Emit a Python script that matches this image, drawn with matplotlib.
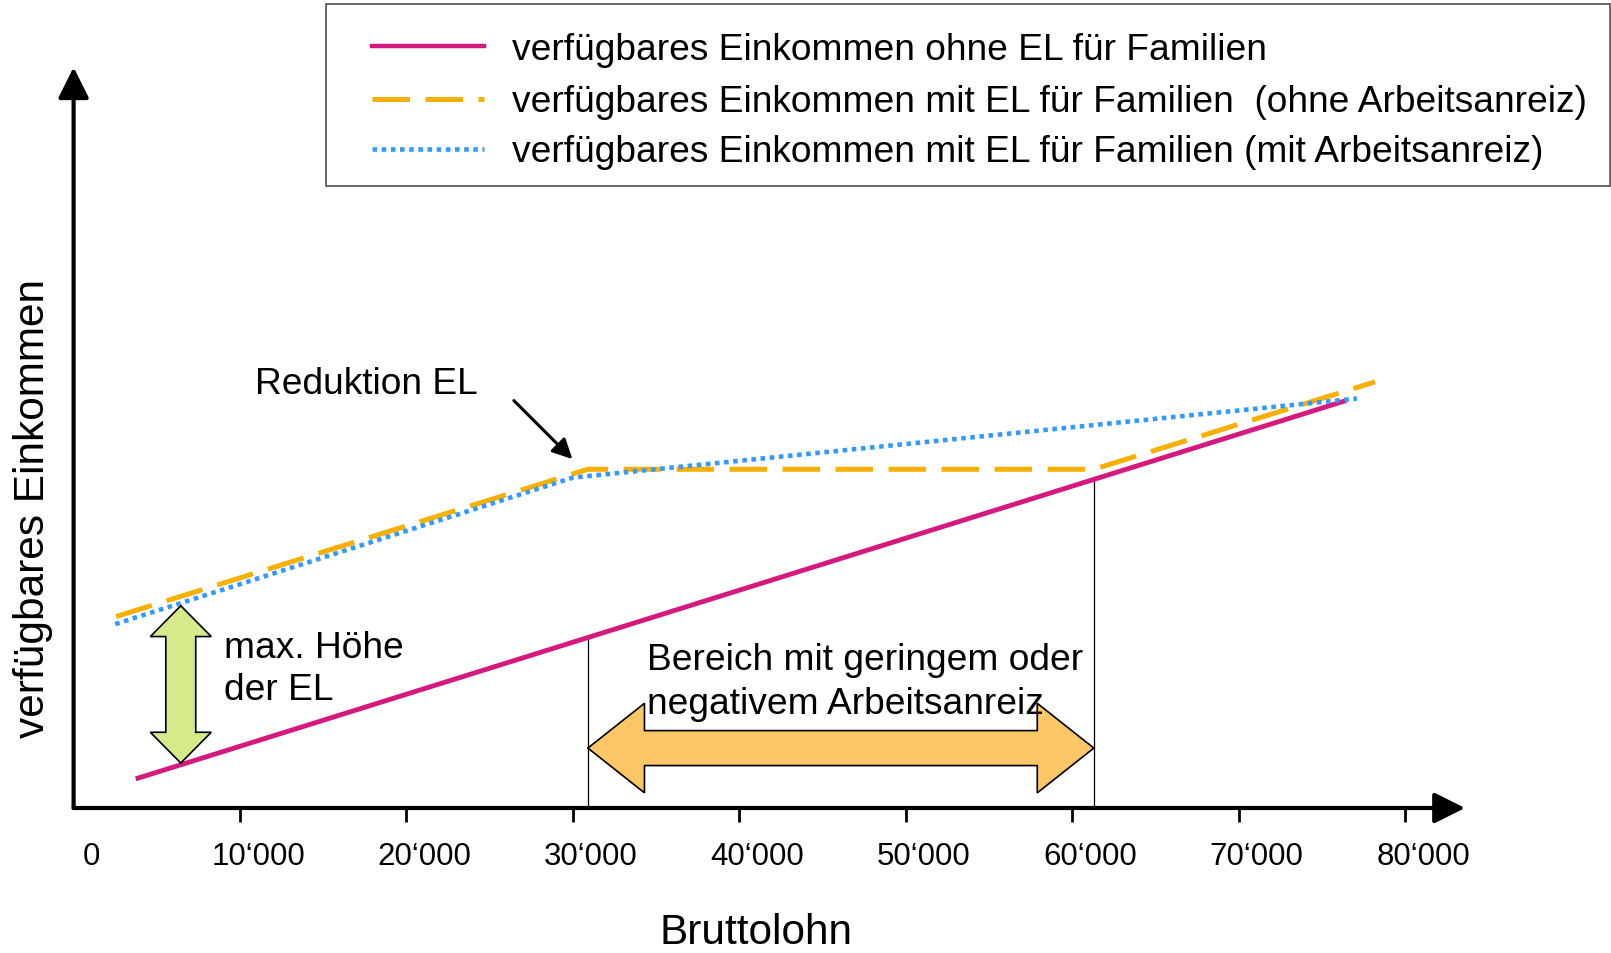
import numpy as np
import matplotlib
matplotlib.use('Agg')
import matplotlib.pyplot as plt
from matplotlib.patches import Polygon, Rectangle
from matplotlib.lines import Line2D
from matplotlib.transforms import ScaledTranslation

plt.rcParams['font.family'] = ['Liberation Sans', 'DejaVu Sans']

# Bruttolohn in Tausend, verfügbares Einkommen in beliebigen Einheiten (Schema)
ohne_el_x = [3.73, 76.46]
ohne_el_y = [1.75, 24.48]

mit_el_x = [2.55, 30.9, 61.3, 78.2]
mit_el_y = [11.5, 20.35, 20.35, 25.6]

anreiz_x = [2.5, 30.0, 77.1]
anreiz_y = [11.05, 19.85, 24.6]

bereich_grenzen = [30.9, 61.3]
bereich_hoehe = [10.24, 19.74]   # verfügbares Einkommen ohne EL an den Grenzen

tick_pos = [0, 10, 20, 30, 40, 50, 60, 70, 80]
tick_labels = ['0', '10‘000', '20‘000', '30‘000', '40‘000', '50‘000',
               '60‘000', '70‘000', '80‘000']

legend_labels = [
    'verfügbares Einkommen ohne EL für Familien',
    'verfügbares Einkommen mit EL für Familien  (ohne Arbeitsanreiz)',
    'verfügbares Einkommen mit EL für Familien (mit Arbeitsanreiz)',
]

PINK = '#d6197f'
ORANGE = '#f7b000'
BLUE = '#3399ff'
W, H = 1611, 954


def double_arrow(x0, y0, x1, y1, head_len, head_half, shaft_half, **kw):
    # dicker Doppelpfeil als Polygon
    L = np.hypot(x1 - x0, y1 - y0)
    ux, uy = (x1 - x0) / L, (y1 - y0) / L
    px, py = -uy, ux
    local = [(0, 0), (head_len, head_half), (head_len, shaft_half),
             (L - head_len, shaft_half), (L - head_len, head_half), (L, 0),
             (L - head_len, -head_half), (L - head_len, -shaft_half),
             (head_len, -shaft_half), (head_len, -head_half)]
    pts = [(x0 + s * ux + t * px, y0 + s * uy + t * py) for s, t in local]
    return Polygon(pts, closed=True, **kw)


fig = plt.figure(figsize=(W / 100, H / 100), dpi=100)
ax = fig.add_axes([73.6 / W, (H - 809) / H, (1465 - 73.6) / W, (809 - 68.3) / H])
ax.set_xlim(0, 83.6)
ax.set_ylim(0, 44.5)
for s in ax.spines.values():
    s.set_visible(False)

# Achsen mit Pfeilen
arrow_kw = dict(arrowstyle='-|>,head_length=0.4,head_width=0.2', lw=3, color='black',
                mutation_scale=47, shrinkA=0, shrinkB=0)
ax.annotate('', xy=(1, 0), xytext=(0, 0), xycoords='axes fraction', arrowprops=arrow_kw)
ax.annotate('', xy=(0, 1), xytext=(0, 0), xycoords='axes fraction', arrowprops=arrow_kw)

ax.set_xticks(tick_pos, tick_labels, fontsize=22.5)
ax.set_yticks([])
ax.tick_params(axis='x', length=10, width=2, direction='out', pad=13.5)
ax.xaxis.get_major_ticks()[0].tick1line.set_visible(False)
offset = ScaledTranslation(0.18, 0, fig.dpi_scale_trans)
for lbl in ax.get_xticklabels():
    lbl.set_transform(lbl.get_transform() + offset)

# Kurven
ax.plot(ohne_el_x, ohne_el_y, color=PINK, lw=3.5, solid_capstyle='butt', zorder=3)
ax.plot(mit_el_x, mit_el_y, color=ORANGE, lw=3.6, linestyle=(0, (7.5, 3.1)), zorder=3)
ax.plot(anreiz_x, anreiz_y, color=BLUE, lw=3.3, linestyle=(0, (1, 1)), zorder=4)

# Begrenzungslinien des Bereichs
for gx, gy in zip(bereich_grenzen, bereich_hoehe):
    ax.plot([gx, gx], [0, gy], color='black', lw=0.9, zorder=2)

# Doppelpfeile
ax.add_patch(double_arrow(6.44, 2.7, 6.44, 12.15, 1.85, 1.83, 0.9,
                          facecolor='#d4ea8b', edgecolor='black', lw=1.2, zorder=5))
ax.add_patch(double_arrow(bereich_grenzen[0], 3.6, bereich_grenzen[1], 3.6, 3.4, 2.69, 1.05,
                          facecolor='#fbc665', edgecolor='black', lw=1.2, zorder=5))

# Beschriftungen
txt = dict(fontsize=26.7, va='center', ha='left', zorder=6)
ax.text(10.89, 25.52, 'Reduktion EL', **txt)
ax.annotate('', xy=(29.97, 20.96), xytext=(26.45, 24.48),
            arrowprops=dict(arrowstyle='-|>,head_length=0.4,head_width=0.2', lw=2.2,
                            color='black', mutation_scale=30, shrinkA=0, shrinkB=0))
ax.text(9.04, 9.67, 'max. Höhe', **txt)
ax.text(9.04, 7.09, 'der EL', **txt)
ax.text(34.45, 8.92, 'Bereich mit geringem oder', **txt)
ax.text(34.45, 6.27, 'negativem Arbeitsanreiz', **txt)

fig.text(756 / W, 1 - 933 / H, 'Bruttolohn', fontsize=30.5, ha='center', va='center')
fig.text(33 / W, 1 - 508.6 / H, 'verfügbares Einkommen', fontsize=30.5,
         ha='center', va='center', rotation=90)

# Legende (Kasten oben rechts)
fig.add_artist(Rectangle((325.7 / W, 1 - 187 / H), (1610 - 325.7) / W, (187 - 5.1) / H,
                         transform=fig.transFigure, facecolor='white',
                         edgecolor='#505050', lw=1.2))
styles = [dict(color=PINK, lw=3.2),
          dict(color=ORANGE, lw=3.6, linestyle=(0, (7.5, 3.1))),
          dict(color=BLUE, lw=3.3, linestyle=(0, (1, 1)))]
for row_y, label, st in zip([47, 99.7, 150], legend_labels, styles):
    fig.add_artist(Line2D([372 / W, 484 / W], [1 - row_y / H] * 2,
                          transform=fig.transFigure, **st))
    fig.text(511.6 / W, 1 - (row_y + 3) / H, label, fontsize=26.7, va='center', ha='left')

fig.savefig('out.png', dpi=100)
